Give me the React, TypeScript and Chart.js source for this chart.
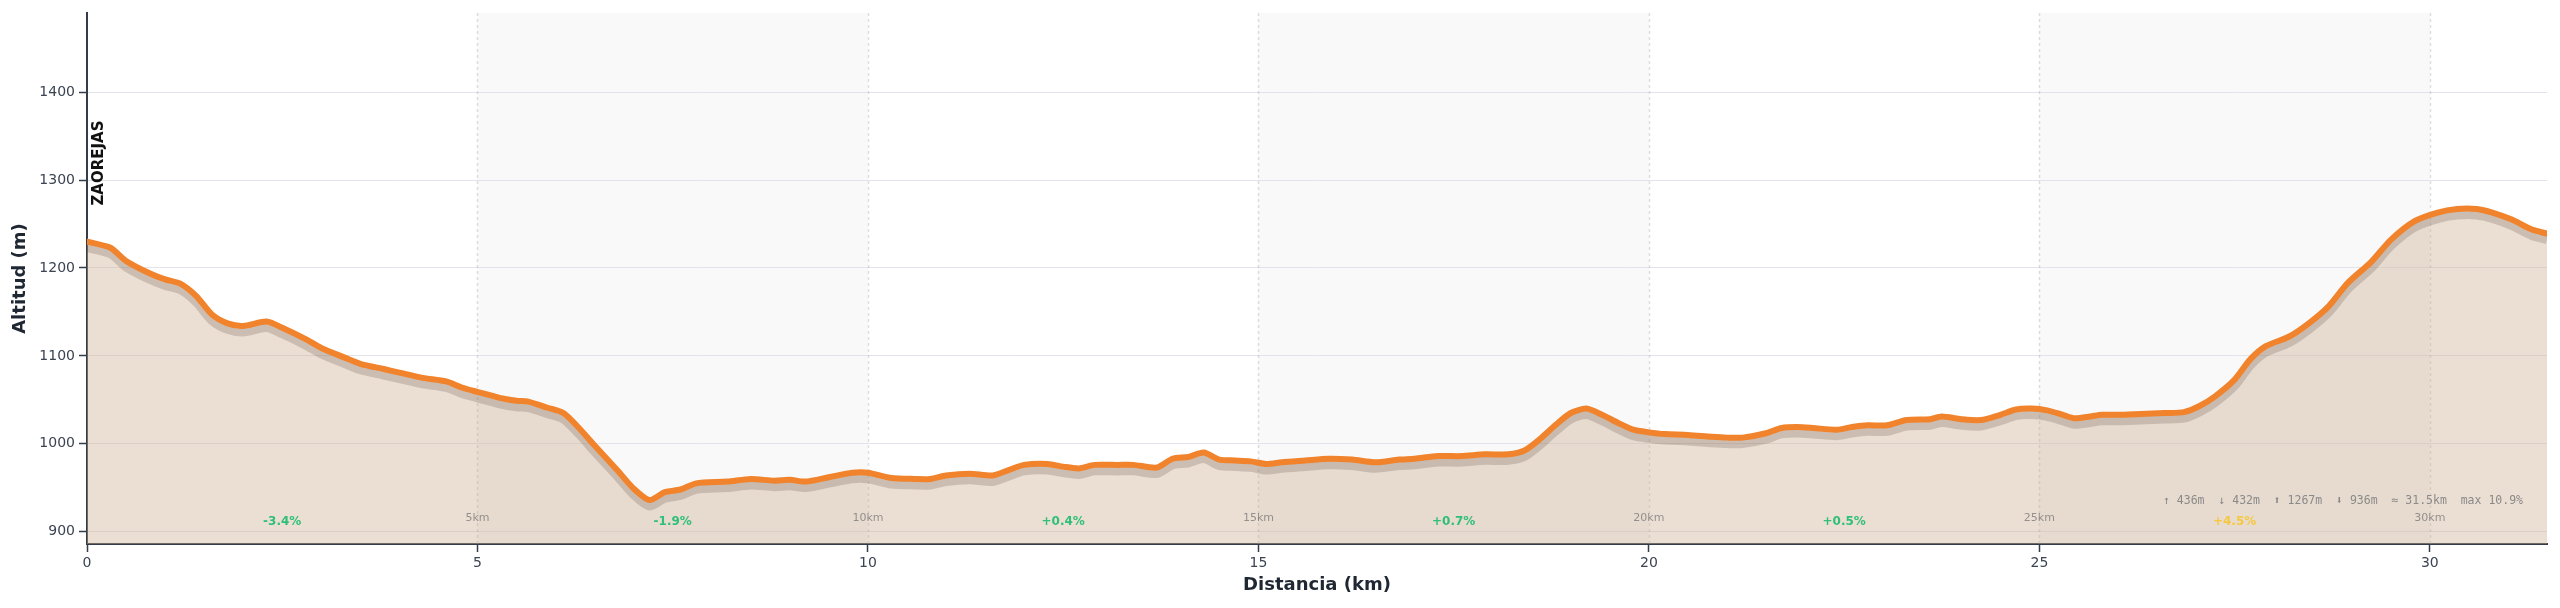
import React, { useEffect, useRef } from 'react';
import { Chart, registerables } from 'chart.js';

Chart.register(...registerables);

const distanceKm = [
  0, 0.3, 0.5, 0.8, 1.0, 1.2, 1.4, 1.6, 1.8, 2.0, 2.3, 2.5, 2.8, 3.0, 3.3, 3.5, 3.8, 4.0, 4.3, 4.6,
  4.8, 5.0, 5.3, 5.5, 5.65, 5.9, 6.1, 6.3, 6.5, 6.8, 7.0, 7.2, 7.4, 7.6, 7.8, 8.2, 8.5, 8.8, 9.0, 9.2,
  9.5, 9.8, 10.0, 10.3, 10.6, 10.8, 11.0, 11.3, 11.6, 11.8, 12.0, 12.3, 12.5, 12.7, 12.9, 13.2, 13.4, 13.7, 13.9, 14.1,
  14.3, 14.5, 14.7, 14.9, 15.1, 15.3, 15.6, 15.9, 16.2, 16.5, 16.8, 17.0, 17.3, 17.6, 17.9, 18.2, 18.4, 18.6, 18.8, 19.0,
  19.2, 19.4, 19.6, 19.8, 20.0, 20.2, 20.5, 20.8, 21.0, 21.2, 21.5, 21.7, 21.9, 22.1, 22.4, 22.6, 22.8, 23.05, 23.3, 23.6,
  23.75, 24.0, 24.25, 24.5, 24.7, 24.9, 25.1, 25.3, 25.45, 25.65, 25.8, 26.0, 26.3, 26.6, 26.85, 27.05, 27.25, 27.5, 27.7, 27.9,
  28.2, 28.45, 28.7, 28.95, 29.25, 29.5, 29.8, 30.1, 30.35, 30.6, 30.8, 31.05, 31.3, 31.5,
];

const elevationM = [
  1230, 1223, 1208, 1194, 1187, 1182, 1168, 1147, 1137, 1134, 1139, 1132, 1119, 1109, 1098, 1091, 1085, 1081, 1075, 1071,
  1064, 1059, 1052, 1049, 1048, 1041, 1035, 1018, 998, 969, 949, 936, 945, 948, 955, 957, 960, 958, 959, 957,
  962, 967, 967, 961, 960, 960, 964, 966, 964, 970, 976, 977, 974, 972, 976, 976, 976, 973, 983, 985,
  990, 982, 981, 980, 977, 979, 981, 983, 982, 979, 982, 983, 986, 986, 988, 988, 992, 1005, 1021, 1035,
  1040, 1033, 1024, 1016, 1013, 1011, 1010, 1008, 1007, 1007, 1012, 1018, 1019, 1018, 1016, 1019, 1021, 1021, 1027, 1028,
  1031, 1028, 1027, 1033, 1039, 1040, 1038, 1033, 1029, 1031, 1033, 1033, 1034, 1035, 1036, 1043, 1054, 1073, 1096, 1111,
  1122, 1137, 1156, 1183, 1207, 1232, 1253, 1263, 1267, 1267, 1263, 1255, 1244, 1239,
];

const xTickValues = [0, 5, 10, 15, 20, 25, 30];
const yTickValues = [900, 1000, 1100, 1200, 1300, 1400];
const bandStartsKm = [5, 15, 25];
const bandWidthKm = 5;
const kmMarks = [5, 10, 15, 20, 25, 30];
const kmMarkLabels = ['5km', '10km', '15km', '20km', '25km', '30km'];
const gradeCentersKm = [2.5, 7.5, 12.5, 17.5, 22.5, 27.5];
const gradeValues = [-3.4, -1.9, 0.4, 0.7, 0.5, 4.5];
const gradeLabels = ['-3.4%', '-1.9%', '+0.4%', '+0.7%', '+0.5%', '+4.5%'];
const statsText = '\u2191 436m  \u2193 432m  \u2B06 1267m  \u2B07 936m  \u2248 31.5km  max 10.9%';
const startLabel = 'ZAOREJAS';
const xMin = 0;
const xMax = 31.5;
const yMin = 886;
const yMax = 1490;

const points = distanceKm.map((d, i) => ({ x: d, y: elevationM[i] }));

const decorPlugin = {
  id: 'decor',
  beforeDraw(chart: any) {
    const { ctx, chartArea } = chart;
    const xs = chart.scales.x;
    ctx.save();
    ctx.fillStyle = '#f9f9f9';
    bandStartsKm.forEach((s) => {
      const x0 = xs.getPixelForValue(s);
      const x1 = xs.getPixelForValue(s + bandWidthKm);
      ctx.fillRect(x0, chartArea.top, x1 - x0, chartArea.bottom - chartArea.top);
    });
    ctx.restore();
  },
  beforeDatasetsDraw(chart: any) {
    const { ctx, chartArea } = chart;
    const xs = chart.scales.x;
    ctx.save();
    ctx.strokeStyle = 'rgba(150,150,160,0.3)';
    ctx.lineWidth = 1.5;
    ctx.setLineDash([3, 3]);
    kmMarks.forEach((k) => {
      const x = Math.round(xs.getPixelForValue(k)) + 0.5;
      ctx.beginPath();
      ctx.moveTo(x, chartArea.top);
      ctx.lineTo(x, chartArea.bottom);
      ctx.stroke();
    });
    ctx.restore();
  },
  beforeDatasetDraw(chart: any, args: any) {
    if (args.index === 1) {
      chart.ctx.save();
      chart.ctx.translate(0, 6);
    }
  },
  afterDatasetDraw(chart: any, args: any) {
    if (args.index === 1) {
      chart.ctx.restore();
    }
  },
  afterDatasetsDraw(chart: any) {
    const { ctx, chartArea } = chart;
    const xs = chart.scales.x;
    const ys = chart.scales.y;
    ctx.save();
    ctx.textAlign = 'center';
    ctx.textBaseline = 'middle';
    ctx.font = '11px "DejaVu Sans"';
    ctx.fillStyle = 'rgba(90,90,95,0.6)';
    kmMarks.forEach((k, i) => {
      ctx.fillText(kmMarkLabels[i], xs.getPixelForValue(k), chartArea.bottom - 26);
    });
    ctx.font = 'bold 12px "DejaVu Sans"';
    gradeCentersKm.forEach((c, i) => {
      ctx.fillStyle = gradeValues[i] > 3 ? '#f5c842' : '#2fbf78';
      ctx.fillText(gradeLabels[i], xs.getPixelForValue(c), chartArea.bottom - 22);
    });
    ctx.textAlign = 'right';
    ctx.font = '11.5px "DejaVu Sans Mono"';
    ctx.fillStyle = '#8a8a8a';
    ctx.fillText(statsText, chartArea.right - 24, chartArea.bottom - 43);
    const sx = xs.getPixelForValue(distanceKm[0]) + 12.5;
    const sy = ys.getPixelForValue(elevationM[0]) - 36;
    ctx.translate(sx, sy);
    ctx.rotate(-Math.PI / 2);
    ctx.textAlign = 'left';
    ctx.textBaseline = 'middle';
    ctx.font = 'bold 15px "DejaVu Sans"';
    ctx.fillStyle = '#111111';
    ctx.fillText(startLabel, 0, 0);
    ctx.restore();
  },
};

export default function App() {
  const canvasRef = useRef<HTMLCanvasElement | null>(null);

  useEffect(() => {
    const canvas = canvasRef.current;
    if (!canvas) return;
    const chart = new Chart(canvas, {
      type: 'line',
      data: {
        datasets: [
          {
            label: 'fill',
            data: points,
            borderWidth: 0,
            borderColor: 'rgba(0,0,0,0)',
            backgroundColor: 'rgba(205,175,145,0.4)',
            fill: 'start',
            pointRadius: 0,
            tension: 0.25,
            order: 3,
          },
          {
            label: 'shadow',
            data: points,
            borderWidth: 9,
            borderColor: 'rgba(90,70,60,0.22)',
            borderJoinStyle: 'round',
            fill: false,
            pointRadius: 0,
            tension: 0.25,
            order: 2,
          },
          {
            label: 'line',
            data: points,
            borderWidth: 6,
            borderColor: '#f0832b',
            borderJoinStyle: 'round',
            borderCapStyle: 'round',
            fill: false,
            pointRadius: 0,
            tension: 0.25,
            order: 1,
          },
        ],
      } as any,
      options: {
        animation: false,
        responsive: false,
        devicePixelRatio: 1,
        layout: { padding: { left: 8, right: 13, top: 13, bottom: 0 } },
        plugins: {
          legend: { display: false },
          tooltip: { enabled: false },
        },
        scales: {
          x: {
            type: 'linear',
            min: xMin,
            max: xMax,
            afterBuildTicks: (s: any) => {
              s.ticks = xTickValues.map((v) => ({ value: v }));
            },
            ticks: {
              color: '#3b4452',
              font: { size: 14, family: 'DejaVu Sans' },
              padding: 3,
              maxRotation: 0,
              autoSkip: false,
            },
            grid: {
              drawOnChartArea: false,
              drawTicks: true,
              tickLength: 8,
              tickColor: '#333c48',
              tickWidth: 1.5,
            },
            border: { display: true, color: '#333c48', width: 2 },
            title: {
              display: true,
              text: 'Distancia (km)',
              color: '#1f2733',
              font: { size: 18, weight: 'bold', family: 'DejaVu Sans' },
              padding: { top: 0, bottom: 12 },
            },
            afterFit: (s: any) => {
              s.height = 64;
            },
          },
          y: {
            type: 'linear',
            min: yMin,
            max: yMax,
            afterBuildTicks: (s: any) => {
              s.ticks = yTickValues.map((v) => ({ value: v }));
            },
            ticks: {
              color: '#3b4452',
              font: { size: 14, family: 'DejaVu Sans' },
              padding: 4,
              autoSkip: false,
              callback: (v: any) => String(v),
            },
            grid: {
              color: '#e3e3ea',
              lineWidth: 1,
              tickLength: 8,
              tickColor: '#333c48',
              tickWidth: 1.5,
            },
            border: { display: true, color: '#333c48', width: 2 },
            title: {
              display: true,
              text: 'Altitud (m)',
              color: '#1f2733',
              font: { size: 18, weight: 'bold', family: 'DejaVu Sans' },
              padding: { top: 2, bottom: 0 },
            },
            afterFit: (s: any) => {
              s.width = 79;
            },
          },
        },
      } as any,
      plugins: [decorPlugin],
    });
    return () => chart.destroy();
  }, []);

  return (
    <div style={{ position: 'fixed', left: 0, top: 0, width: 2560, height: 608, background: '#ffffff' }}>
      <canvas ref={canvasRef} width={2560} height={608} style={{ width: 2560, height: 608, display: 'block' }} />
    </div>
  );
}
